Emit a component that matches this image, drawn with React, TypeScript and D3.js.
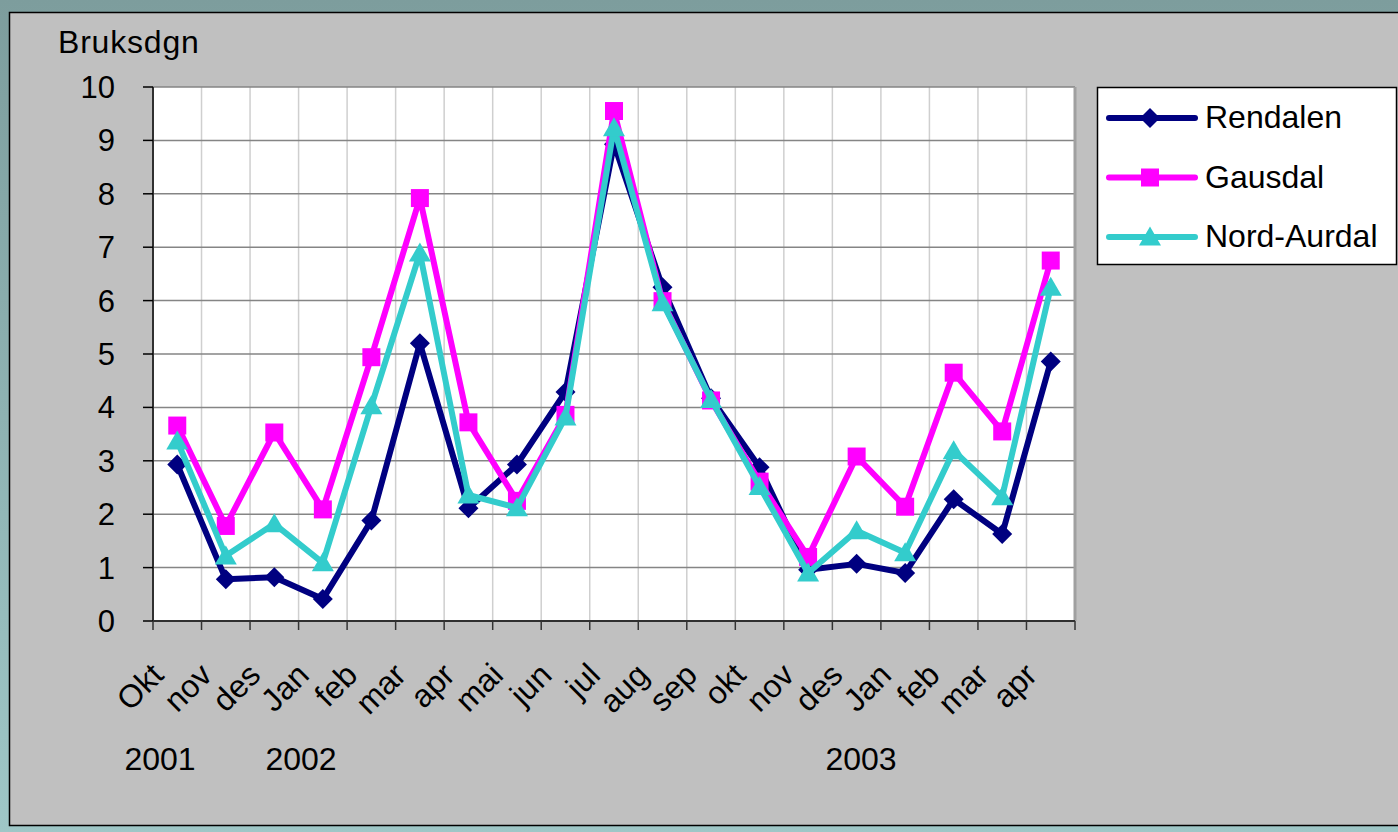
import React from "react";
import * as d3 from "d3";

const months = ["Okt","nov","des","Jan","feb","mar","apr","mai","jun","jul","aug","sep","okt","nov","des","Jan","feb","mar","apr"];
const years = [
  { label: "2001", x: 160 },
  { label: "2002", x: 301 },
  { label: "2003", x: 861 },
];
const rendalen = [2.93,0.78,0.82,0.41,1.88,5.2,2.11,2.93,4.29,8.93,6.25,4.17,2.88,0.96,1.07,0.9,2.28,1.63,4.86];
const gausdal = [3.66,1.78,3.53,2.09,4.94,7.92,3.72,2.25,3.86,9.55,5.99,4.13,2.61,1.2,3.08,2.14,4.65,3.55,6.75];
const nordAurdal = [3.37,1.22,1.82,1.09,4.03,6.89,2.36,2.12,3.82,9.24,5.96,4.15,2.52,0.9,1.69,1.28,3.19,2.33,6.25];
const yTicks = [0,1,2,3,4,5,6,7,8,9,10];

const series = [
  { name: "Rendalen", values: rendalen, color: "#000080", marker: "diamond" },
  { name: "Gausdal", values: gausdal, color: "#ff00ff", marker: "square" },
  { name: "Nord-Aurdal", values: nordAurdal, color: "#33cccc", marker: "triangle" },
];

const FONT = "Arial, 'Liberation Sans', Helvetica, sans-serif";

function markerPath(kind: string, cx: number, cy: number) {
  if (kind === "diamond") {
    const r = 10;
    return `M${cx},${cy - r}L${cx + r},${cy}L${cx},${cy + r}L${cx - r},${cy}Z`;
  }
  if (kind === "square") {
    const h = 9;
    return `M${cx - h},${cy - h}H${cx + h}V${cy + h}H${cx - h}Z`;
  }
  const w = 11, ht = 19;
  return `M${cx},${cy - ht * 0.55}L${cx + w},${cy + ht * 0.45}L${cx - w},${cy + ht * 0.45}Z`;
}

export default function App() {
  const W = 1398, H = 832;
  const left = 153, right = 1075, top = 87, bottom = 621;
  const x = d3.scaleBand<number>().domain(months.map((_, i) => i)).range([left, right]).padding(0);
  const y = d3.scaleLinear().domain([0, 10]).range([bottom, top]);
  const cx = (i: number) => (x(i) as number) + x.bandwidth() / 2;
  const line = d3.line<number>().x((_, i) => cx(i)).y((d) => y(d));
  const boundaries = d3.range(months.length + 1).map((i) => left + i * x.bandwidth());

  return (
    <div style={{ position: "fixed", left: 0, top: 0 }}>
      <svg width={W} height={H} style={{ display: "block" }}>
        <defs>
          <linearGradient id="bg" x1="0" y1="0" x2="0" y2="1">
            <stop offset="0" stopColor="#7d9d9d" />
            <stop offset="1" stopColor="#9fc7c7" />
          </linearGradient>
        </defs>
        <rect x={0} y={0} width={W} height={H} fill="url(#bg)" />
        <rect x={9.5} y={12.5} width={W} height={813} fill="#c0c0c0" stroke="#000" strokeWidth={1.5} />

        {/* plot area */}
        <rect x={left} y={top} width={right - left} height={bottom - top} fill="#fff" />
        {boundaries.slice(1, -1).map((bx, i) => (
          <line key={"v" + i} x1={bx} x2={bx} y1={top} y2={bottom} stroke="#cfcfcf" strokeWidth={1.5} />
        ))}
        {yTicks.slice(1).map((t) => (
          <line key={"h" + t} x1={left} x2={right} y1={y(t)} y2={y(t)} stroke="#858585" strokeWidth={1.5} />
        ))}
        <line x1={right} x2={right} y1={top} y2={bottom} stroke="#a0a0a0" strokeWidth={3} />

        {/* axes */}
        <line x1={left} x2={left} y1={top} y2={bottom} stroke="#303030" strokeWidth={2} />
        <line x1={left} x2={right} y1={bottom} y2={bottom} stroke="#303030" strokeWidth={2} />
        {yTicks.map((t) => (
          <g key={"yt" + t}>
            <line x1={left - 10} x2={left} y1={y(t)} y2={y(t)} stroke="#000" strokeWidth={1.5} />
            <text x={115} y={y(t) + 11} textAnchor="end" fontFamily={FONT} fontSize={31} fill="#000">{t}</text>
          </g>
        ))}
        {boundaries.map((bx, i) => (
          <line key={"xt" + i} x1={bx} x2={bx} y1={bottom} y2={bottom + 9} stroke="#333" strokeWidth={1.5} />
        ))}
        {months.map((m, i) => (
          <text key={"m" + i} transform={`translate(${cx(i) - 12},${677}) rotate(-45)`} textAnchor="end"
            fontFamily={FONT} fontSize={32} fill="#000">{m}</text>
        ))}
        {years.map((yr) => (
          <text key={yr.label} x={yr.x} y={770} textAnchor="middle" fontFamily={FONT} fontSize={32} fill="#000">{yr.label}</text>
        ))}
        <text x={58} y={53} fontFamily={FONT} fontSize={32} letterSpacing={0.8} fill="#000">Bruksdgn</text>

        {/* series */}
        {series.map((s) => (
          <g key={s.name}>
            <path d={line(s.values) || ""} fill="none" stroke={s.color} strokeWidth={6} strokeLinejoin="round" />
            {s.values.map((v, i) => (
              <path key={i} d={markerPath(s.marker, cx(i), y(v))} fill={s.color} />
            ))}
          </g>
        ))}

        {/* legend */}
        <rect x={1097.5} y={87.5} width={299} height={177} fill="#fff" stroke="#000" strokeWidth={1.5} />
        {series.map((s, i) => {
          const ly = 118 + i * 59.5;
          return (
            <g key={"lg" + s.name}>
              <line x1={1109} x2={1195} y1={ly} y2={ly} stroke={s.color} strokeWidth={6} strokeLinecap="round" />
              <path d={markerPath(s.marker, 1150, ly)} fill={s.color} />
              <text x={1205} y={ly + 10} fontFamily={FONT} fontSize={32} fill="#000">{s.name}</text>
            </g>
          );
        })}
      </svg>
    </div>
  );
}
